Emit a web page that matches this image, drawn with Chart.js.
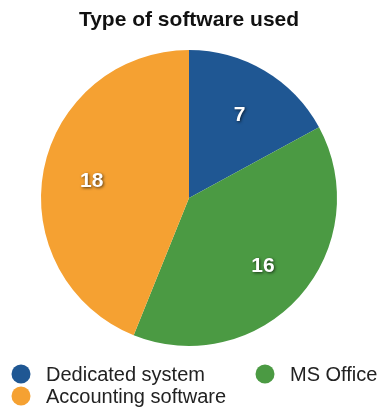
<!DOCTYPE html>
<html lang="en">
<head>
    <meta charset="UTF-8">
    <title>Type of software used</title>
    <style>
        html, body { margin: 0; padding: 0; background: #fff; }
        .chart-container { position: relative; width: 382px; height: 410px; }
    </style>
    <script src="https://cdn.jsdelivr.net/npm/chart.js"></script>
</head>
<body>
    <div class="chart-container">
        <canvas id="softwareChart"></canvas>
    </div>

    <script>
        const labels = ['Dedicated system', 'MS Office', 'Accounting software'];
        const counts = [7, 16, 18];
        const colors = ['#1f5793', '#4b9a43', '#f5a132'];

        const FONT = '"Liberation Sans", Arial, Helvetica, sans-serif';

        // white numbers with a soft dark shadow, placed at ~2/3 of the radius
        const sliceLabels = {
            id: 'sliceLabels',
            afterDatasetsDraw(chart) {
                const ctx = chart.ctx;
                const meta = chart.getDatasetMeta(0);
                ctx.save();
                ctx.font = 'bold 21px ' + FONT;
                ctx.fillStyle = '#fff';
                ctx.textAlign = 'center';
                ctx.textBaseline = 'middle';
                ctx.shadowColor = 'rgba(0,0,0,0.65)';
                ctx.shadowBlur = 3;
                ctx.shadowOffsetX = 1;
                ctx.shadowOffsetY = 1;
                meta.data.forEach((arc, i) => {
                    const p = arc.getProps(['x', 'y', 'startAngle', 'endAngle', 'outerRadius']);
                    const mid = (p.startAngle + p.endAngle) / 2;
                    const r = p.outerRadius * 0.67;
                    ctx.fillText(String(chart.data.datasets[0].data[i]), p.x + Math.cos(mid) * r, p.y + Math.sin(mid) * r + 2);
                });
                ctx.restore();
            }
        };

        // two-column legend under the pie
        const gridLegend = {
            id: 'gridLegend',
            afterDraw(chart) {
                const ctx = chart.ctx;
                const cols = [21, 265];
                const rows = [374, 396];
                ctx.save();
                ctx.font = '20px ' + FONT;
                ctx.textBaseline = 'middle';
                ctx.textAlign = 'left';
                chart.data.labels.forEach((label, i) => {
                    const x = cols[i % 2];
                    const y = rows[Math.floor(i / 2)];
                    ctx.fillStyle = chart.data.datasets[0].backgroundColor[i];
                    ctx.beginPath();
                    ctx.arc(x, y, 9.5, 0, Math.PI * 2);
                    ctx.fill();
                    ctx.fillStyle = '#222';
                    ctx.fillText(label, x + 25, y + 1);
                });
                ctx.restore();
            }
        };

        const chart = new Chart(document.getElementById('softwareChart'), {
            type: 'pie',
            data: {
                labels: labels,
                datasets: [{
                    data: counts,
                    backgroundColor: colors,
                    borderWidth: 0
                }]
            },
            options: {
                responsive: true,
                maintainAspectRatio: false,
                animation: false,
                layout: { padding: { left: 41, right: 45, top: 0, bottom: 64 } },
                plugins: {
                    legend: { display: false },
                    tooltip: { enabled: false },
                    title: {
                        display: true,
                        text: 'Type of software used',
                        color: '#111',
                        font: { family: FONT, size: 21, weight: 'bold', lineHeight: 1.2 },
                        padding: { top: 8, bottom: 16.8 }
                    }
                }
            },
            plugins: [sliceLabels, gridLegend]
        });
    </script>
</body>
</html>
